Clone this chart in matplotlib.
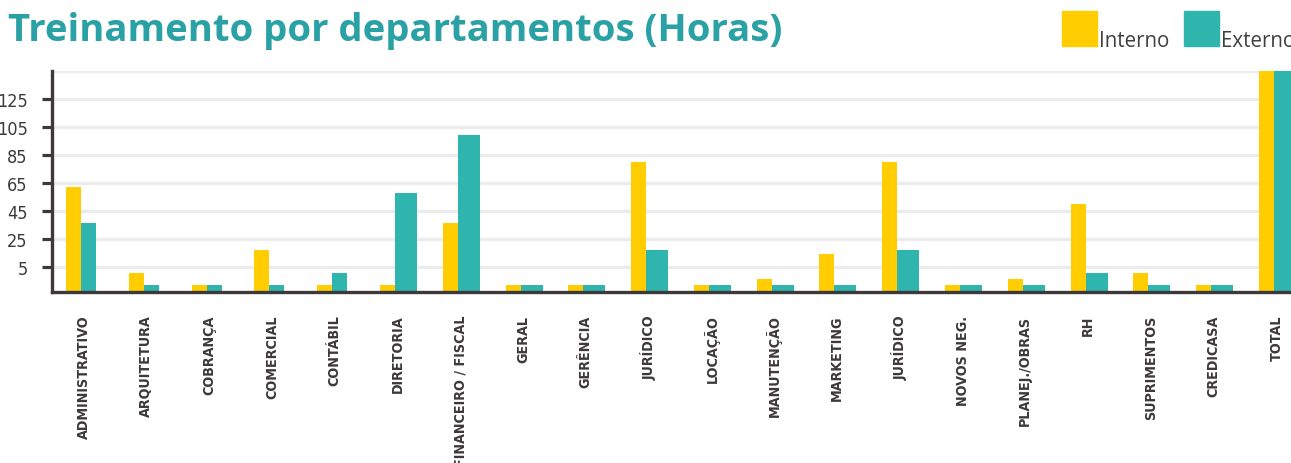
import numpy as np
import matplotlib.pyplot as plt
from matplotlib.patches import Rectangle

# categories along the x axis
departments = [
    "ADMINISTRATIVO", "ARQUITETURA", "COBRANÇA", "COMERCIAL", "CONTÁBIL",
    "DIRETORIA", "FINANCEIRO / FISCAL", "GERAL", "GERÊNCIA", "JURÍDICO",
    "LOCAÇÃO", "MANUTENÇÃO", "MARKETING", "JURÍDICO", "NOVOS NEG.",
    "PLANEJ./OBRAS", "RH", "SUPRIMENTOS", "CREDICASA", "TOTAL",
]
# bar heights measured from the baseline (TOTAL bars run off the top in the original)
interno = [75.4, 14, 5.4, 30.2, 5.4, 5.4, 49.5, 5.4, 5.4, 93.3,
           5.4, 9.7, 27, 93.3, 5.4, 9.7, 63.3, 14, 5.4, 560]
externo = [49.5, 5.4, 5.4, 5.4, 14, 71, 112.4, 5.4, 5.4, 30.4,
           5.4, 5.4, 5.4, 30.4, 5.4, 5.4, 14, 5.4, 5.4, 470]
# y tick labels as printed on the chart, and where they sit
tick_labels = ["5", "25", "45", "65", "85", "105", "125"]
tick_pos = [18.1, 38.1, 58.1, 78.1, 98.1, 118.1, 138.1]

YELLOW = "#FFCD00"
TEAL = "#30B5AE"
TITLE_TEAL = "#2AA1A4"
DARK = "#3D393A"
GRID = "#ECECEC"

W, H = 1291, 464
fig = plt.figure(figsize=(W / 100, H / 100), dpi=100)
ax = fig.add_axes([52 / W, (H - 293.3) / H, (W - 52) / W, (293.3 - 72) / H])

x = np.arange(len(departments))
wy = 15 / 62.79
wt = np.array([15 / 62.79] * 5 + [22 / 62.79] * (len(departments) - 5))
ax.bar(x - wy / 2, interno, width=wy, color=YELLOW, zorder=3)
ax.bar(x + wt / 2, externo, width=wt, color=TEAL, zorder=3)

ax.set_xlim(-0.462, len(departments) - 1 + 17 / 62.79)
ax.set_ylim(0, 158)

for t in tick_pos + [158]:
    ax.axhline(t, color=GRID, lw=2.4, zorder=1)

ax.set_yticks(tick_pos)
ax.set_yticklabels(tick_labels, family="DejaVu Sans", stretch="condensed",
                   fontsize=13, color=DARK)
ax.tick_params(axis="y", length=7.5, width=2.3, color=DARK, pad=10)

ax.set_xticks(x + 0.04)
ax.set_xticklabels(departments, rotation=90, va="top", ha="center",
                   family="DejaVu Sans", stretch="condensed",
                   fontweight="bold", fontsize=10.3, color=DARK)
ax.tick_params(axis="x", length=0, pad=16)

for s in ["top", "right"]:
    ax.spines[s].set_visible(False)
for s in ["left", "bottom"]:
    ax.spines[s].set_color(DARK)
    ax.spines[s].set_linewidth(2.4)
    ax.spines[s].set_zorder(4)

fig.text(8 / W, 1 - 41 / H, "Treinamento por departamentos (Horas)",
         family=["Open Sans", "DejaVu Sans"], fontweight="bold", fontsize=27.5,
         color=TITLE_TEAL, va="baseline", ha="left")

# legend squares and labels
for x0, col, lab in [(1062, YELLOW, "Interno"), (1184, TEAL, "Externo")]:
    fig.patches.append(Rectangle((x0 / W, 1 - 47 / H), 35 / W, 35 / H,
                                 transform=fig.transFigure, color=col))
    fig.text((x0 + 37) / W, 1 - 47 / H, lab, family=["Open Sans", "DejaVu Sans"],
             fontsize=14.8, color="#404040", va="baseline", ha="left")

fig.savefig("out.png", dpi=100)
